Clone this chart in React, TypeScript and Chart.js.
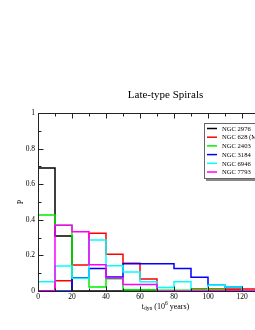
import React, { useEffect, useRef } from "react";
import { Chart, registerables } from "chart.js";

Chart.register(...registerables);

// Bin edges (10^6 years) and histogram probabilities per bin (bin i spans edges[i]..edges[i+1])
const binEdges = [0, 10, 20, 30, 40, 50, 60, 70, 80, 90, 100, 110, 120, 130, 140, 150];
const ngc2976 = [0.691, 0.309, 0, 0, 0, 0, 0, 0, 0, 0, 0, 0.004, 0, 0, 0];
const ngc628 = [0, 0.058, 0.146, 0.324, 0.207, 0.156, 0.067, 0, 0, 0.011, 0.011, 0.011, 0.011, 0.011, 0.011];
const ngc2403 = [0.427, 0.37, 0.071, 0.022, 0.069, 0.007, 0.007, 0.004, 0.004, 0.007, 0.007, 0, 0, 0, 0];
const ngc3184 = [0, 0, 0.075, 0.126, 0.078, 0.153, 0.153, 0.153, 0.127, 0.077, 0.033, 0.023, 0, 0, 0];
const ngc6946 = [0.052, 0.141, 0.071, 0.286, 0.142, 0.107, 0.052, 0.019, 0.052, 0, 0.033, 0.022, 0, 0, 0];
const ngc7793 = [0, 0.369, 0.333, 0.147, 0.073, 0.036, 0.036, 0, 0, 0, 0, 0, 0, 0, 0];

const seriesNames = ["NGC 2976", "NGC 628 (M74)", "NGC 2403", "NGC 3184", "NGC 6946", "NGC 7793"];
const seriesValues = [ngc2976, ngc628, ngc2403, ngc3184, ngc6946, ngc7793];
const seriesColors = ["#000000", "#ff0000", "#00ee00", "#0000ff", "#00ffff", "#ff00ff"];

const xTicks = [0, 20, 40, 60, 80, 100, 120, 140];
const yTicks = [0, 0.2, 0.4, 0.6, 0.8, 1];
const titleText = "Late-type Spirals";
const yTitle = "P";

const SERIF = "'Liberation Serif', 'DejaVu Serif', serif";
const CANVAS_H = 306;

function histPoints(vals: number[]) {
  const pts: { x: number; y: number }[] = [{ x: binEdges[0], y: 0 }];
  vals.forEach((v, i) => pts.push({ x: binEdges[i], y: v }));
  pts.push({ x: binEdges[binEdges.length - 1], y: vals[vals.length - 1] });
  return pts;
}

const decorPlugin = {
  id: "decor",
  afterDraw(chart: any) {
    const ctx = chart.ctx;
    const ca = chart.chartArea;
    const xs = chart.scales.x;
    const ys = chart.scales.y;
    const L = Math.round(ca.left) + 0.5;
    const R = Math.round(ca.right) + 0.5;
    const T = Math.round(ca.top) + 0.5;
    const B = Math.round(ca.bottom) + 0.5;
    ctx.save();
    ctx.strokeStyle = "#222";
    ctx.lineWidth = 1;
    ctx.strokeRect(L, T, R - L, B - T);
    ctx.beginPath();
    for (let v = 0; v <= 150; v += 10) {
      const px = Math.round(xs.getPixelForValue(v)) + 0.5;
      const len = v % 20 === 0 ? 5 : 3;
      ctx.moveTo(px, B);
      ctx.lineTo(px, B - len);
      ctx.moveTo(px, T);
      ctx.lineTo(px, T + len);
    }
    for (let k = 0; k <= 10; k++) {
      const py = Math.round(ys.getPixelForValue(k / 10)) + 0.5;
      const len = k % 2 === 0 ? 5 : 3;
      ctx.moveTo(L, py);
      ctx.lineTo(L + len, py);
      ctx.moveTo(R, py);
      ctx.lineTo(R - len, py);
    }
    ctx.stroke();

    // title
    const cx = (ca.left + ca.right) / 2;
    ctx.fillStyle = "#000";
    ctx.textAlign = "center";
    ctx.textBaseline = "middle";
    ctx.font = `11px ${SERIF}`;
    ctx.fillText(titleText, cx, 87);

    // y title
    ctx.save();
    ctx.translate(13, (ca.top + ca.bottom) / 2);
    ctx.rotate(-Math.PI / 2);
    ctx.font = `8px ${SERIF}`;
    ctx.fillText(yTitle, 0, 0);
    ctx.restore();

    // x title: t_dyn (10^6 years)
    const parts = [
      { t: "t", f: 8, dy: 0 },
      { t: "dyn", f: 5.5, dy: 2 },
      { t: " (10", f: 8, dy: 0 },
      { t: "6", f: 5.5, dy: -3 },
      { t: " years)", f: 8, dy: 0 },
    ];
    let total = 0;
    parts.forEach((p) => {
      ctx.font = `${p.f}px ${SERIF}`;
      total += ctx.measureText(p.t).width;
    });
    let xx = cx - total / 2;
    const yb = 299;
    ctx.textAlign = "left";
    parts.forEach((p) => {
      ctx.font = `${p.f}px ${SERIF}`;
      ctx.fillText(p.t, xx, yb + p.dy);
      xx += ctx.measureText(p.t).width;
    });

    // legend
    const lx = 196;
    const ly = 115;
    const lw = 92;
    const lh = 56;
    ctx.fillStyle = "#888";
    ctx.fillRect(lx + 2, ly + 2, lw, lh);
    ctx.fillStyle = "#fff";
    ctx.fillRect(lx, ly, lw, lh);
    ctx.strokeStyle = "#666";
    ctx.lineWidth = 1;
    ctx.strokeRect(lx + 0.5, ly + 0.5, lw - 1, lh - 1);
    ctx.font = `6.6px ${SERIF}`;
    ctx.textBaseline = "middle";
    seriesNames.forEach((name, i) => {
      const y = ly + 5.5 + i * 8.7;
      ctx.strokeStyle = seriesColors[i];
      ctx.lineWidth = 1.5;
      ctx.beginPath();
      ctx.moveTo(lx + 3, y);
      ctx.lineTo(lx + 13, y);
      ctx.stroke();
      ctx.fillStyle = "#000";
      ctx.fillText(name, lx + 18, y + 0.5);
    });
    ctx.restore();
  },
};

export default function App() {
  const ref = useRef<HTMLCanvasElement | null>(null);
  useEffect(() => {
    document.documentElement.style.overflow = "hidden";
    document.body.style.overflow = "hidden";
    document.body.style.margin = "8px 0 8px 8px";
    if (!ref.current) return;
    const chart = new Chart(ref.current, {
      type: "line",
      data: {
        datasets: seriesValues.map((vals, i) => ({
          label: seriesNames[i],
          data: histPoints(vals),
          borderColor: seriesColors[i],
          backgroundColor: seriesColors[i],
          borderWidth: 1.5,
          pointRadius: 0,
          stepped: true,
          fill: false,
          order: seriesValues.length - i,
        })),
      },
      options: {
        animation: false,
        responsive: false,
        maintainAspectRatio: false,
        devicePixelRatio: 1,
        layout: { padding: { left: 0, top: 105, right: 25, bottom: 0 } },
        plugins: { legend: { display: false }, tooltip: { enabled: false }, title: { display: false } },
        scales: {
          x: {
            type: "linear",
            min: 0,
            max: 150,
            grid: { display: false, drawTicks: false },
            border: { display: false },
            afterBuildTicks: (s: any) => {
              s.ticks = xTicks.map((v) => ({ value: v }));
            },
            afterFit: (s: any) => {
              s.height = CANVAS_H - 283;
            },
            ticks: {
              padding: 2,
              maxRotation: 0,
              autoSkip: false,
              color: "#000",
              font: { family: SERIF, size: 7.5 },
              callback: (v: any) => String(v),
            },
          },
          y: {
            type: "linear",
            min: 0,
            max: 1,
            grid: { display: false, drawTicks: false },
            border: { display: false },
            afterBuildTicks: (s: any) => {
              s.ticks = yTicks.map((v) => ({ value: v }));
            },
            afterFit: (s: any) => {
              s.width = 30;
            },
            ticks: {
              padding: 3,
              autoSkip: false,
              color: "#000",
              font: { family: SERIF, size: 7.5 },
              callback: (v: any) => String(Number(Number(v).toFixed(1))),
            },
          },
        },
      },
      plugins: [decorPlugin],
    } as any);
    return () => chart.destroy();
  }, []);
  return (
    <div style={{ width: 310, height: CANVAS_H }}>
      <canvas ref={ref} width={310} height={CANVAS_H} style={{ display: "block", width: 310, height: CANVAS_H }} />
    </div>
  );
}
